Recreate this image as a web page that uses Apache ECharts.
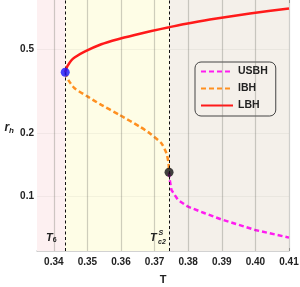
<!DOCTYPE html>
<html><head><meta charset="utf-8">
<script src="https://cdn.jsdelivr.net/npm/echarts@6/dist/echarts.min.js"></script>
<style>html,body{margin:0;padding:0;background:#fff}#c{width:300px;height:287px}</style>
</head><body><div id="c"></div>
<script>
// axis extents
const X_MIN = 0.335, X_MAX = 0.41;
const Y_MIN = 0.0553, Y_MAX = 0.856;
// critical temperatures
const T6 = 0.3434, TC2 = 0.3743;
// tick labels
const xTickLabels = [0.34, 0.35, 0.36, 0.37, 0.38, 0.39, 0.40, 0.41];
const xTicks = [0.336, 0.338, 0.34, 0.342, 0.344, 0.346, 0.348, 0.35, 0.352, 0.354, 0.356, 0.358, 0.36, 0.362, 0.364, 0.366, 0.368, 0.37, 0.372, 0.374, 0.376, 0.378, 0.38, 0.382, 0.384, 0.386, 0.388, 0.39, 0.392, 0.394, 0.396, 0.398, 0.40, 0.402, 0.404, 0.406, 0.408, 0.41];
const yTickLabels = [0.1, 0.2, 0.5];
const yTicks = [0.06, 0.07, 0.08, 0.09, 0.1, 0.2, 0.3, 0.4, 0.5, 0.6, 0.7, 0.8];
// series
const T_LBH = [0.3434, 0.34355, 0.34375, 0.34409, 0.34519, 0.34617, 0.34916, 0.35414, 0.35909, 0.36407, 0.36905, 0.37430, 0.37898, 0.38644, 0.39837, 0.41];
const R_LBH = [0.389, 0.397, 0.405, 0.4167, 0.4424, 0.4571, 0.4870, 0.528, 0.5578, 0.5844, 0.6105, 0.6356, 0.6590, 0.6921, 0.7390, 0.780];
const T_IBH = [0.3434, 0.34356, 0.34385, 0.3445, 0.34617, 0.35014, 0.35363, 0.35959, 0.36556, 0.36854, 0.37203, 0.37352, 0.37415, 0.3743];
const R_IBH = [0.389, 0.380, 0.370, 0.354, 0.3266, 0.2980, 0.2753, 0.2441, 0.2149, 0.2000, 0.1793, 0.1608, 0.1441, 0.1306];
const T_USBH = [0.3743, 0.37451, 0.37501, 0.37698, 0.37996, 0.38494, 0.38993, 0.39986, 0.41];
const R_USBH = [0.1306, 0.1201, 0.1077, 0.0965, 0.0897, 0.0835, 0.0780, 0.0696, 0.0640];
const criticalPoints = [[T6, 0.389, '#1414ff'], [TC2, 0.1306, '#111111']];

const lg = Math.log10;
const pairs = (T, R) => T.map((t, i) => [t, lg(R[i])]);
const FONT = "'Liberation Sans', Arial, sans-serif";

const chart = echarts.init(document.getElementById('c'), null, {renderer: 'canvas'});
const option = {
  animation: false,
  grid: {left: 37, right: 11, top: 0, bottom: 36, outerBoundsMode: 'none', containLabel: false},
  xAxis: [{
    type: 'value', min: X_MIN, max: X_MAX,
    name: 'T', nameLocation: 'middle', nameGap: 23,
    nameTextStyle: {fontFamily: FONT, fontWeight: 'bold', fontSize: 11, color: '#222'},
    axisLine: {show: true, lineStyle: {color: '#c4c4c4', width: 1.5}},
    axisTick: {show: true, inside: true, length: 3, customValues: xTicks, lineStyle: {color: '#a8a8a8'}},
    axisLabel: {customValues: xTickLabels, formatter: v => v.toFixed(2), margin: 6,
      fontFamily: FONT, fontWeight: 'bold', fontSize: 10, color: '#222'},
    splitLine: {show: false}
  }, {
    type: 'value', position: 'top', min: X_MIN, max: X_MAX,
    axisLine: {show: false},
    axisTick: {show: true, inside: true, length: 3, customValues: xTicks, lineStyle: {color: '#a8a8a8'}},
    axisLabel: {show: false}, splitLine: {show: false}
  }],
  yAxis: {
    type: 'value', min: lg(Y_MIN), max: lg(Y_MAX),
    name: '{r|r}{h|h}', nameLocation: 'middle', nameRotate: 0, nameGap: 23,
    nameTextStyle: {padding: [4, 0, 0, 0], rich: {
      r: {fontFamily: FONT, fontStyle: 'italic', fontWeight: 'bold', fontSize: 12, color: '#222'},
      h: {fontFamily: FONT, fontStyle: 'italic', fontWeight: 'bold', fontSize: 8, color: '#222', padding: [6, 0, 0, 0]}
    }},
    axisLine: {show: true, lineStyle: {color: '#d0c4c4', width: 1}},
    axisTick: {show: true, inside: true, length: 3, customValues: yTicks.map(lg), lineStyle: {color: '#b0a8a8'}},
    axisLabel: {customValues: yTickLabels.map(lg), formatter: v => String(Number(Math.pow(10, v).toPrecision(2))),
      margin: 3, padding: [2, 0, 0, 0], fontFamily: FONT, fontWeight: 'bold', fontSize: 10, color: '#222'},
    splitLine: {show: false}
  },
  legend: {
    data: ['USBH', 'IBH', 'LBH'], orient: 'vertical', left: 195, top: 62,
    padding: [4, 8, 5, 5], itemGap: 6, itemWidth: 32, itemHeight: 12,
    borderColor: '#444', borderWidth: 1, borderRadius: 6,
    itemStyle: {color: 'rgba(0,0,0,0)', borderWidth: 0, opacity: 0},
    textStyle: {fontFamily: FONT, fontWeight: 'bold', fontSize: 10.5, color: '#222'}
  },
  series: [
    {
      type: 'line', name: 'bg', data: [], silent: true, z: 0,
      markArea: {silent: true, data: [
        [{xAxis: X_MIN, itemStyle: {color: '#fdf0f1'}}, {xAxis: T6}],
        [{xAxis: T6, itemStyle: {color: '#fefde6'}}, {xAxis: TC2}],
        [{xAxis: TC2, itemStyle: {color: '#f4f0ea'}}, {xAxis: X_MAX}]
      ]},
      markLine: {silent: true, symbol: 'none', precision: 8, label: {show: false}, animation: false,
        data: [
          ...xTickLabels.map(v => ({xAxis: v, lineStyle: {color: 'rgba(110,110,100,0.33)', width: 1.2, type: 'solid'}})),
          ...yTickLabels.map(v => ({yAxis: lg(v), lineStyle: {color: 'rgba(110,110,100,0.08)', width: 1, type: 'solid'}})),
          {xAxis: T6, lineStyle: {color: '#111', width: 1, type: [3, 2.5]}},
          {xAxis: TC2, lineStyle: {color: '#111', width: 1, type: [3, 2.5]}}
        ]}
    },
    {
      type: 'line', name: 'USBH', data: pairs(T_USBH, R_USBH), symbol: 'none', z: 4,
      color: '#ff1cf0', lineStyle: {color: '#ff1cf0', width: 2.5, type: [5, 3]}
    },
    {
      type: 'line', name: 'IBH', data: pairs(T_IBH, R_IBH), symbol: 'none', z: 4, smooth: 0.2,
      color: '#ff9020', lineStyle: {color: '#ff9020', width: 2.5, type: [5, 3]}
    },
    {
      type: 'line', name: 'LBH', data: pairs(T_LBH, R_LBH), symbol: 'none', z: 5, smooth: 0.2,
      color: '#ff1a1a', lineStyle: {color: '#ff1a1a', width: 2.5}
    },
    {
      type: 'scatter', name: 'points', z: 6, symbolSize: 9,
      data: criticalPoints.map(p => ({value: [p[0], lg(p[1])], itemStyle: {color: p[2]}}))
    }
  ],
  graphic: [
    {type: 'text', z: 100, left: 46, top: 232, style: {
      text: '{t|T}{s|6}', rich: {
        t: {fontFamily: FONT, fontStyle: 'italic', fontWeight: 'bold', fontSize: 11, fill: '#222'},
        s: {fontFamily: FONT, fontWeight: 'bold', fontSize: 7, fill: '#222', padding: [5, 0, 0, 0]}
      }}},
    {type: 'text', z: 100, left: 150, top: 232, style: {
      text: 'T', fontFamily: FONT, fontStyle: 'italic', fontWeight: 'bold', fontSize: 11, fill: '#222'}},
    {type: 'text', z: 100, left: 158.5, top: 230, style: {
      text: 'S', fontFamily: FONT, fontStyle: 'italic', fontWeight: 'bold', fontSize: 7, fill: '#222'}},
    {type: 'text', z: 100, left: 158, top: 238.5, style: {
      text: 'c2', fontFamily: FONT, fontStyle: 'italic', fontWeight: 'bold', fontSize: 7, fill: '#222'}}
  ]
};
chart.setOption(option);
</script></body></html>
